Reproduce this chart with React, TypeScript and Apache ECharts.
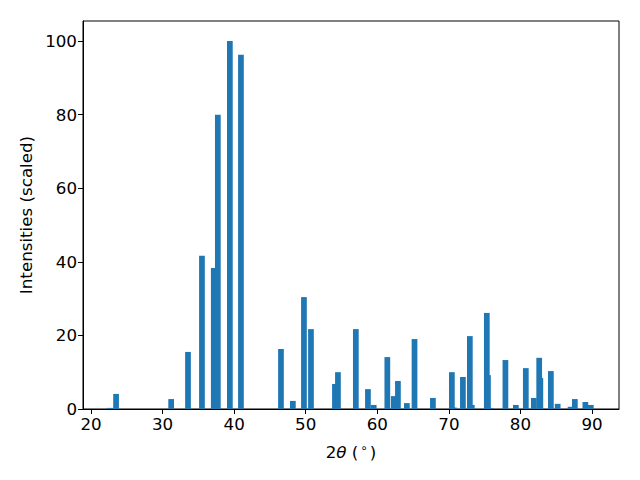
import React, { useEffect, useRef } from "react";
import * as echarts from "echarts";

const twoTheta = [22.65, 23.5, 31.2, 33.55, 35.5, 37.15, 37.72, 39.4, 40.95, 46.54, 48.2, 49.75, 50.73, 54.08, 54.5, 57.0, 58.69, 59.5, 61.4, 62.3, 62.88, 64.13, 65.2, 67.77, 70.42, 70.7, 71.96, 72.93, 73.2, 75.3, 75.46, 75.73, 77.9, 79.36, 80.75, 81.87, 82.62, 82.78, 84.25, 85.2, 87.0, 87.6, 89.07, 89.83];
const intensity = [0.3, 4.1, 2.7, 15.5, 41.6, 38.3, 79.9, 100, 96.2, 16.3, 2.2, 30.4, 21.7, 6.8, 10.0, 21.7, 5.4, 1.1, 14.1, 3.5, 7.6, 1.6, 19.0, 3.0, 10.0, 0.4, 8.7, 19.8, 1.1, 26.1, 9.2, 0.3, 13.3, 1.1, 11.1, 3.0, 13.9, 8.4, 10.3, 1.4, 0.6, 2.7, 1.9, 1.1];
const xTicks = [20, 30, 40, 50, 60, 70, 80, 90];
const yTicks = [0, 20, 40, 60, 80, 100];
const BAR_WIDTH = 0.8;

export default function App() {
  const ref = useRef<HTMLDivElement>(null);
  useEffect(() => {
    const chart = echarts.init(ref.current!, null, { renderer: "svg" });
    const font = "DejaVu Sans";
    const fs = 16.7;
    chart.setOption({
      animation: false,
      textStyle: { fontFamily: font },
      grid: { left: 83, right: 21, top: 21, bottom: 71, show: true, borderColor: "#000", borderWidth: 1, backgroundColor: "transparent" },
      xAxis: {
        type: "value",
        min: 18.88,
        max: 93.77,
        splitLine: { show: false },
        axisLine: { show: true, onZero: false, lineStyle: { color: "#000", width: 1 } },
        axisTick: { show: true, length: 5, customValues: xTicks, lineStyle: { color: "#000" } },
        axisLabel: { customValues: xTicks, color: "#000", fontSize: fs, fontFamily: font, margin: 6 },
        name: "{a|2}{b|θ}{a| (}{c|∘}{a|)}",
        nameLocation: "middle",
        nameGap: 33,
        nameTextStyle: {
          rich: {
            a: { fontSize: fs, fontFamily: font, color: "#000" },
            b: { fontSize: fs, fontFamily: font, fontStyle: "italic", color: "#000" },
            c: { fontSize: 12, fontFamily: font, color: "#000", verticalAlign: "top", padding: [0, 2, 7, 2] },
          },
        },
      },
      yAxis: {
        type: "value",
        min: 0,
        max: 105.4,
        splitLine: { show: false },
        axisLine: { show: true, lineStyle: { color: "#000", width: 1 } },
        axisTick: { show: true, length: 5, customValues: yTicks, lineStyle: { color: "#000" } },
        axisLabel: { customValues: yTicks, color: "#000", fontSize: fs, fontFamily: font, margin: 6 },
        name: "Intensities (scaled)",
        nameLocation: "middle",
        nameGap: 48,
        nameTextStyle: { fontSize: fs, fontFamily: font, color: "#000" },
      },
      series: [
        {
          type: "custom",
          data: twoTheta.map((x, i) => [x, intensity[i]]),
          renderItem: (params: any, api: any) => {
            const x = api.value(0);
            const y = api.value(1);
            const p0 = api.coord([x - BAR_WIDTH / 2, 0]);
            const p1 = api.coord([x + BAR_WIDTH / 2, y]);
            return {
              type: "rect",
              shape: { x: p0[0], y: p1[1], width: p1[0] - p0[0], height: p0[1] - p1[1] },
              style: { fill: "#1f77b4" },
            };
          },
        },
      ],
    });
    return () => chart.dispose();
  }, []);
  return <div ref={ref} style={{ width: 640, height: 480, position: "absolute", left: 0, top: 0 }} />;
}
